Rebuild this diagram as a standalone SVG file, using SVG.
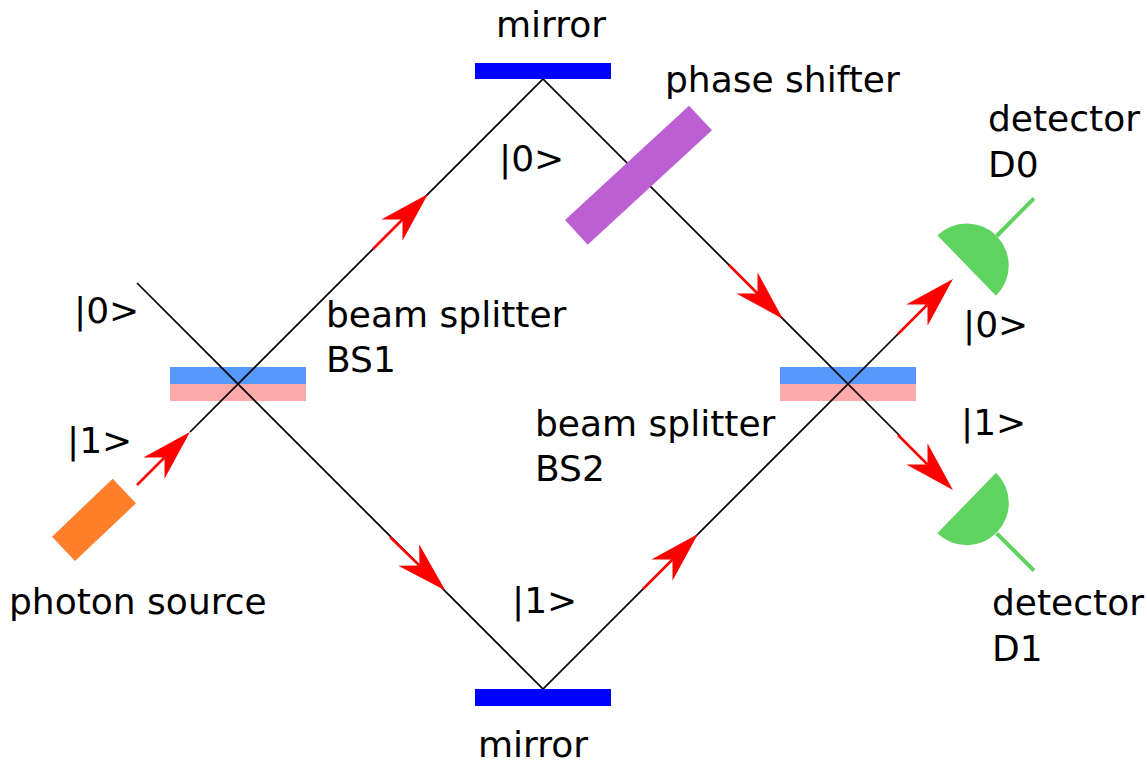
<svg xmlns="http://www.w3.org/2000/svg" width="1147" height="762" viewBox="0 0 1147 762">
<style>
text{font-family:"DejaVu Sans",sans-serif;font-size:36px;fill:#000}
.beam{stroke:#000;stroke-width:1.7;fill:none}
.ray{stroke:#f00;stroke-width:2.5;fill:none;marker-end:url(#head)}
.mirror{fill:#00f}
.top{fill:#5599ff}
.bottom{fill:#ffaaaa}
.det{fill:#5fd35f}
.stem{stroke:#5fd35f;stroke-width:4;fill:none}
</style>
<defs>
<marker id="head" markerUnits="userSpaceOnUse" markerWidth="60" markerHeight="40" viewBox="-55 -20 60 40" refX="-36" refY="0" orient="auto">
<path d="M0,0L-51,-15L-36,0L-51,15Z" fill="#f00"/>
</marker>
</defs>
<rect width="1147" height="762" fill="#fff"/>
<g id="bs1"><rect class="top" x="170" y="367" width="136" height="17"/><rect class="bottom" x="170" y="384" width="136" height="17"/><text x="326" y="327">beam splitter</text><text x="326" y="372">BS1</text></g>
<g id="bs2"><rect class="top" x="780" y="367" width="136" height="17"/><rect class="bottom" x="780" y="384" width="136" height="17"/><text x="535" y="436">beam splitter</text><text x="535" y="481">BS2</text></g>
<g id="connectors">
<path class="beam" d="M137,283L543,689L900,332"/>
<path class="beam" d="M190,432L543,79L900,436"/>
<path class="ray" d="M137,485L164.5,457.5"/>
<path class="ray" d="M373,249L402.5,219.5"/>
<path class="ray" d="M729,265L757.5,293.5"/>
<path class="ray" d="M898,334L927.5,304.5"/>
<path class="ray" d="M898,435L927.5,464.5"/>
<path class="ray" d="M390,537L419.5,565.5"/>
<path class="ray" d="M643,589L672.5,559.5"/>
</g>
<g id="mirror-top"><rect class="mirror" x="475" y="63" width="136" height="16"/><text x="496" y="37">mirror</text></g>
<g id="mirror-bottom"><rect class="mirror" x="475" y="689" width="136" height="17"/><text x="478" y="757">mirror</text></g>
<g id="phase-shifter"><polygon points="689,105.7 712,130.3 587.7,244.7 565,220" fill="#bc5fd3"/><text x="665" y="92">phase shifter</text></g>
<g id="source"><polygon points="112.7,478.7 136,503.3 75,561 52,536.7" fill="#ff7f2a"/><text x="9" y="614">photon source</text></g>
<g id="detector-d0"><path class="det" d="M937.3,235.3A42,42 0 0 1 996,295.7Z"/><path class="stem" d="M996.7,236L1034,198.3"/><text x="988" y="131">detector</text><text x="988" y="177">D0</text></g>
<g id="detector-d1"><path class="det" d="M996,472.7A42,42 0 0 1 937.3,533.3Z"/><path class="stem" d="M996.7,533.3L1034,570.7"/><text x="992" y="615">detector</text><text x="992" y="661">D1</text></g>
<g id="state-labels">
<text x="74" y="323">|0&gt;</text>
<text x="67" y="453">|1&gt;</text>
<text x="499" y="171">|0&gt;</text>
<text x="512" y="613">|1&gt;</text>
<text x="963" y="337">|0&gt;</text>
<text x="961" y="435">|1&gt;</text>
</g>
</svg>
